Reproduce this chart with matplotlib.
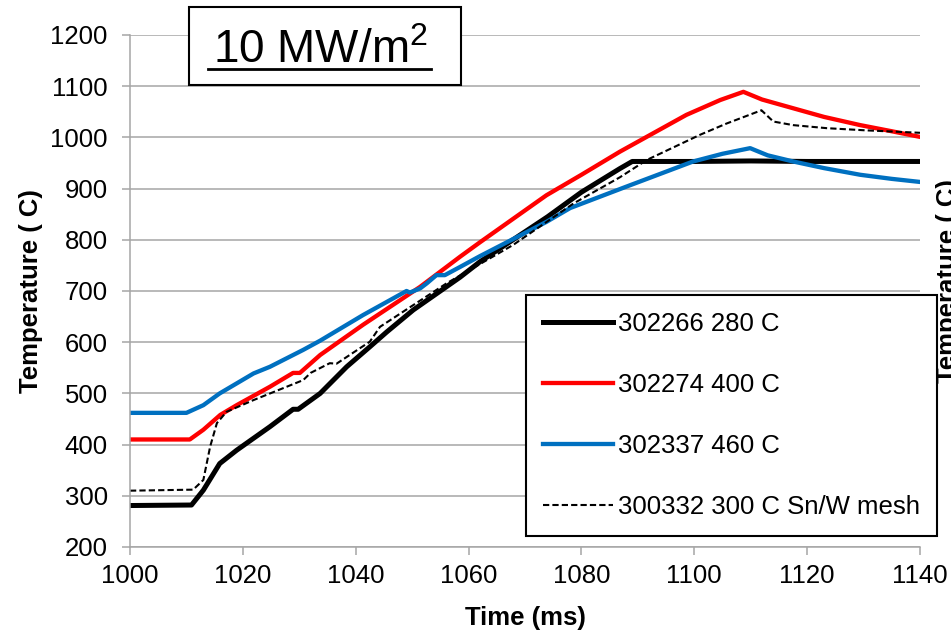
import matplotlib
matplotlib.use('Agg')
import matplotlib.pyplot as plt
from matplotlib.patches import Rectangle
from matplotlib.lines import Line2D

plt.rcParams['font.family'] = ['Liberation Sans', 'DejaVu Sans']
plt.rcParams['mathtext.fontset'] = 'custom'
plt.rcParams['mathtext.rm'] = 'Liberation Sans'

# --- data ---
t_280 = [1000, 1010.9, 1013, 1015.9, 1018.9, 1024.8, 1028.9, 1029.8, 1033.7, 1038.4,
         1042.5, 1045.5, 1050.2, 1058.5, 1062, 1074, 1080, 1086.8, 1089, 1100, 1110,
         1120, 1130, 1140]
T_280 = [281, 282, 311, 363, 389, 435, 469, 469, 500, 552,
         591, 620, 663, 727, 757, 845, 893, 939, 953, 953, 954,
         953, 953, 953]

t_400 = [1000, 1010.6, 1013, 1016, 1018.9, 1024.8, 1028.9, 1030.1, 1033.7, 1041.3,
         1051.4, 1058.5, 1062, 1073.8, 1080, 1086.8, 1098.6, 1104.6, 1108.7, 1112,
         1117.5, 1123, 1129.4, 1135, 1140]
T_400 = [410, 410, 429, 458, 477, 513, 540, 540, 575, 634,
         708, 767, 795, 887, 927, 972, 1044, 1073, 1089, 1074,
         1057, 1040, 1024, 1012, 1001]

t_460 = [1000, 1010, 1013, 1015.9, 1021.9, 1024.8, 1030.7, 1033.7, 1041.3, 1049, 1049.6,
         1051.4, 1052.6, 1054.3, 1055.8, 1058.5, 1062, 1073.8, 1078, 1088, 1099.8,
         1105, 1109.9, 1113, 1117.5, 1123, 1129.4, 1135, 1140]
T_460 = [462, 462, 477, 500, 539, 552, 585, 603, 653, 700, 697,
         705, 715, 731, 731, 747, 768, 835, 862, 904, 953,
         968, 979, 965, 953, 940, 927, 919, 913]

t_300 = [1000, 1011.2, 1013, 1014.2, 1015.4, 1017.1, 1021.9, 1030.7, 1032, 1035.4,
         1036.6, 1042.5, 1044.3, 1056.1, 1067.9, 1078.6, 1086.8, 1091.6, 1101, 1105.7,
         1111.9, 1114, 1117.5, 1123.5, 1130, 1140]
T_300 = [310, 312, 331, 396, 442, 464, 487, 526, 540, 559,
         558, 601, 630, 715, 790, 871, 922, 956, 1005, 1027,
         1053, 1031, 1024, 1018, 1014, 1009]

labels = ['302266 280 C', '302274 400 C', '302337 460 C', '300332 300 C Sn/W mesh']

FS = 18.5
grey = '#a6a6a6'

fig = plt.figure(figsize=(9.51, 6.3), dpi=100)
ax = fig.add_axes([130 / 951, 1 - 547 / 630, 790 / 951, 512 / 630])

ax.plot(t_280, T_280, color='black', lw=3.6, solid_joinstyle='round', label=labels[0])
ax.plot(t_400, T_400, color='#ff0000', lw=3.1, solid_joinstyle='round', label=labels[1])
ax.plot(t_460, T_460, color='#0070c0', lw=3.1, solid_joinstyle='round', label=labels[2])
ax.plot(t_300, T_300, color='black', lw=1.5, dashes=(3, 1.5), label=labels[3])

ax.set_xlim(1000, 1140)
ax.set_ylim(200, 1200)
ax.set_xticks(range(1000, 1141, 20))
ax.set_yticks(range(200, 1201, 100))
ax.yaxis.grid(True, color=grey, lw=1.1)
ax.set_axisbelow(True)
for s in ['top', 'right']:
    ax.spines[s].set_visible(False)
for s in ['left', 'bottom']:
    ax.spines[s].set_color(grey)
    ax.spines[s].set_linewidth(1.1)
ax.tick_params(axis='both', color=grey, width=1.1, length=6, labelsize=FS)
ax.tick_params(axis='x', pad=6)
ax.tick_params(axis='y', pad=10)

ax.set_xlabel('Time (ms)', fontsize=FS, fontweight='bold', labelpad=13)
ax.set_ylabel('Temperature ( C)', fontsize=FS, fontweight='bold', labelpad=5)

leg = ax.legend(loc='upper left', bbox_to_anchor=(526 / 951, 1 - 295 / 630),
                bbox_transform=fig.transFigure, fontsize=FS, frameon=True,
                fancybox=False, edgecolor='black', framealpha=1,
                borderpad=0.65, labelspacing=1.45, handlelength=2.75,
                handletextpad=0.2, borderaxespad=0)
leg.get_frame().set_linewidth(1.5)

# title box
fig.add_artist(Rectangle((189 / 951, 1 - 85 / 630), 272 / 951, 78 / 630,
                         transform=fig.transFigure, facecolor='white',
                         edgecolor='black', lw=1.5, zorder=5))
fig.text(320 / 951, 1 - 63 / 630, r'10 MW/m$^{\mathregular{2}}$', fontsize=33,
         ha='center', va='baseline', zorder=6)
fig.add_artist(Line2D([208 / 951, 431 / 951], [1 - 69 / 630, 1 - 69 / 630],
                      transform=fig.transFigure, color='black', lw=2, zorder=6))

# secondary axis label, cut off at the right edge as in the original slide
fig.text(936 / 951, 1 - 383 / 630, 'Temperature ( C)', rotation=90, fontsize=FS,
         fontweight='bold', ha='left', va='bottom')

fig.savefig('out.png', dpi=100)
plt.close()
